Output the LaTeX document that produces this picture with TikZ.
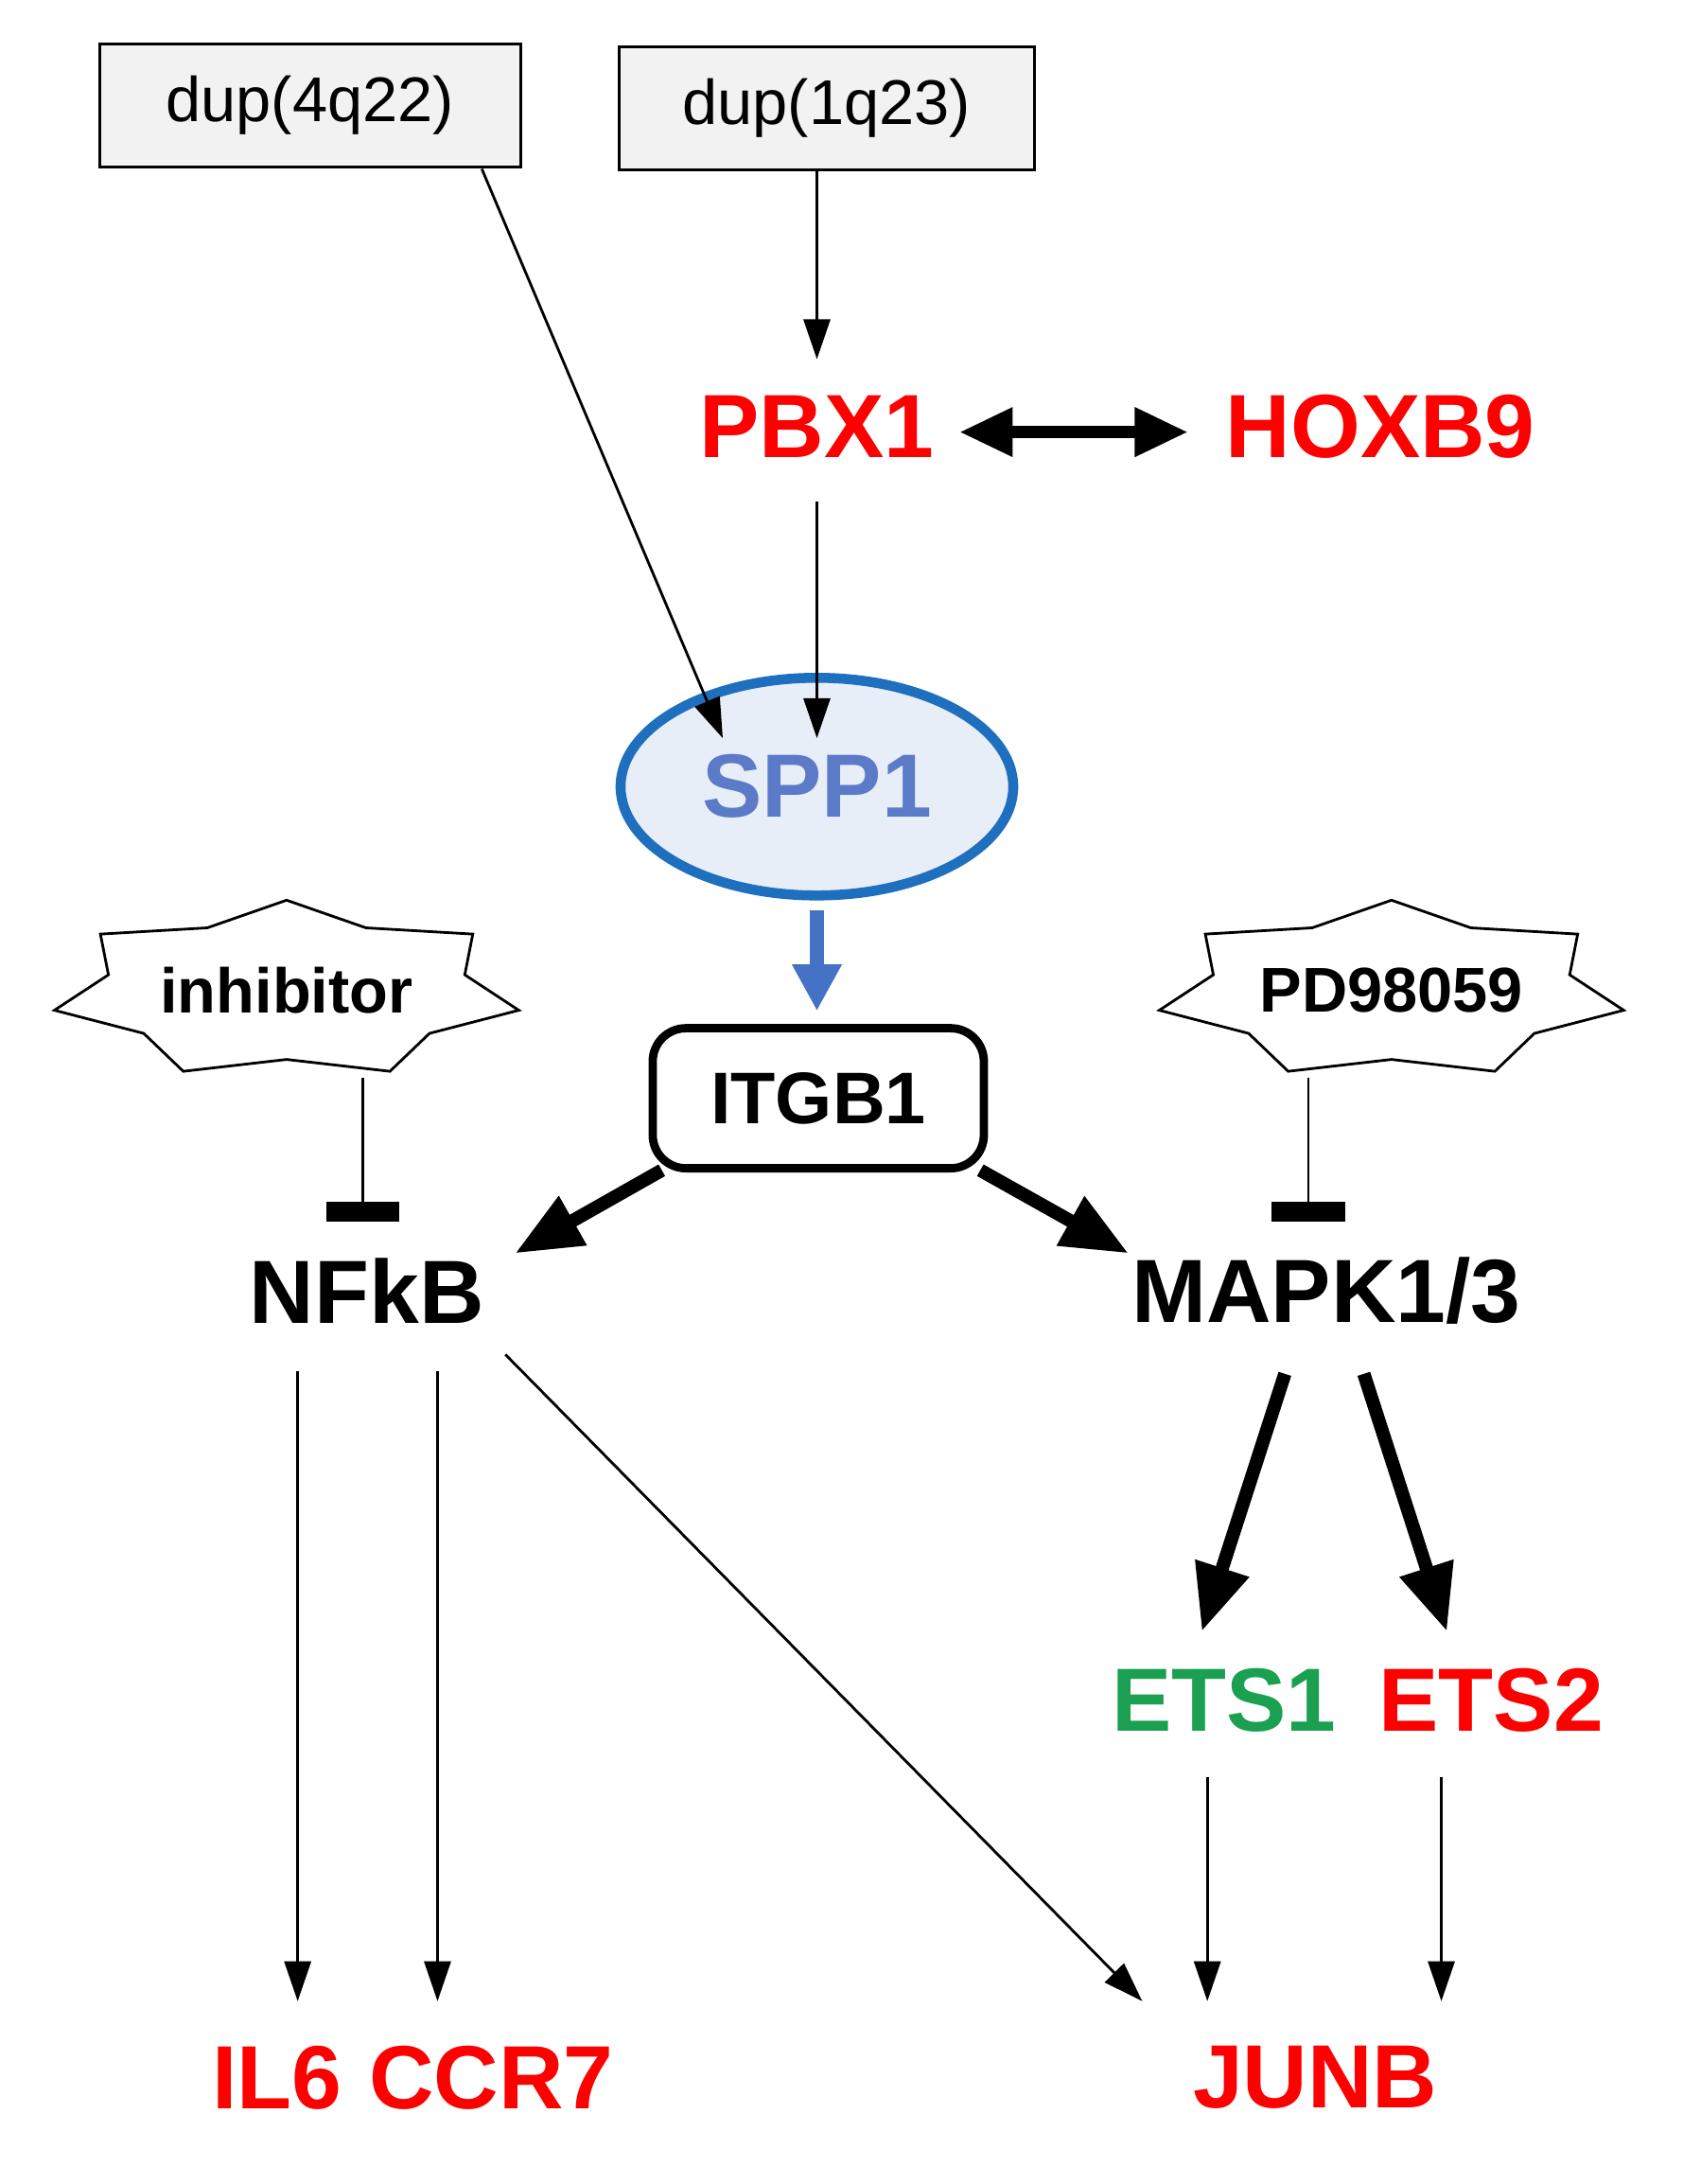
\documentclass[tikz,border=0pt]{standalone}
\usepackage{fontspec}
\setmainfont{Liberation Sans}
\usetikzlibrary{arrows.meta,shapes.geometric}
\definecolor{gred}{HTML}{FF0000}
\definecolor{ggreen}{HTML}{1AA050}
\definecolor{sppfill}{HTML}{E8EEF8}
\definecolor{sppline}{HTML}{1F6FBF}
\definecolor{spptext}{HTML}{5B7BC8}
\definecolor{barrow}{HTML}{4472C4}
\begin{document}
\begin{tikzpicture}[x=0.01464cm,y=-0.01464cm,
  dup/.style={draw,fill=black!5,line width=0.8pt,minimum height=1.3cm,font=\fontsize{19}{22}\selectfont},
  gene/.style={font=\fontsize{27}{30}\selectfont\bfseries,inner sep=2pt},
  thin/.style={-{Triangle[length=12pt,width=8pt]},line width=0.8pt},
  thick/.style={-{Triangle[length=20pt,width=16pt]},line width=4pt},
  inh/.style={-{Bar[width=22pt,line width=6pt]},line width=0.8pt}]
\useasboundingbox (0,0) rectangle (1215,1577);
\node[dup,minimum width=4.45cm] (d4) at (224,76) {dup(4q22)};
\node[dup,minimum width=4.39cm] (d1) at (597,78) {dup(1q23)};
\node[gene,text=gred] (pbx) at (590,308) {PBX1};
\node[gene,text=gred] (hox) at (997,308) {HOXB9};
\node[ellipse,draw=sppline,line width=3pt,fill=sppfill,minimum width=4.15cm,minimum height=2.3cm,
  font=\fontsize{27}{30}\selectfont\bfseries,text=spptext] (spp) at (590,568) {SPP1};
\node[draw,rounded corners=10pt,line width=2.5pt,minimum width=3.5cm,minimum height=1.48cm,
  font=\fontsize{22}{26}\selectfont\bfseries] (itg) at (591,793) {ITGB1};
\foreach \n/\cx/\t in {inh/207/inhibitor,pd/1005/PD98059}{
  \draw[line width=0.8pt,fill=white] (\cx,650)
    \foreach \k in {0,...,6}{ -- ({\cx+132*cos(90+\k*360/7+180/7)},{715-50*sin(90+\k*360/7+180/7)}) -- ({\cx+172*cos(90+(\k+1)*360/7)},{715-65*sin(90+(\k+1)*360/7)}) } -- cycle;
  \node[font=\fontsize{19}{23}\selectfont\bfseries] (\n) at (\cx,715) {\t};
}
\node[gene] (nfkb) at (265,932) {NFkB};
\node[gene] (mapk) at (958,932) {MAPK1/3};
\node[gene,text=ggreen] (ets1) at (884,1228) {ETS1};
\node[gene,text=gred] (ets2) at (1077,1228) {ETS2};
\node[gene,text=gred] (il6) at (200,1500) {IL6};
\node[gene,text=gred] (ccr7) at (355,1500) {CCR7};
\node[gene,text=gred] (junb) at (950,1500) {JUNB};
\coordinate (i1) at (262,778); \coordinate (i2) at (262,882);
\coordinate (p1) at (945,778); \coordinate (p2) at (945,882);

\draw[thin] (d1.south -| pbx) -- ++(0,136);
\draw[{Triangle[length=16pt,width=14pt]}-{Triangle[length=16pt,width=14pt]},line width=3.5pt] (693,312) -- (858,312);
\draw[thin] (590,362) -- (590,533);
\draw[thin] (348,122) -- (522,533);
\draw[-{Triangle[length=14pt,width=14pt]},line width=4pt,barrow] (590,657) -- (590,730);
\draw[thick] (478,845) -- (372,905);
\draw[thick] (708,845) -- (815,905);
\draw[inh] (i1) -- (i2);
\draw[inh] (p1) -- (p2);
\draw[thin] (215,990) -- (215,1445);
\draw[thin] (316,990) -- (316,1445);
\draw[thin] (365,978) -- (825,1445);
\draw[thick] (928,992) -- (868,1178);
\draw[thick] (985,992) -- (1045,1178);
\draw[thin] (872,1283) -- (872,1445);
\draw[thin] (1041,1283) -- (1041,1445);
\end{tikzpicture}
\end{document}
